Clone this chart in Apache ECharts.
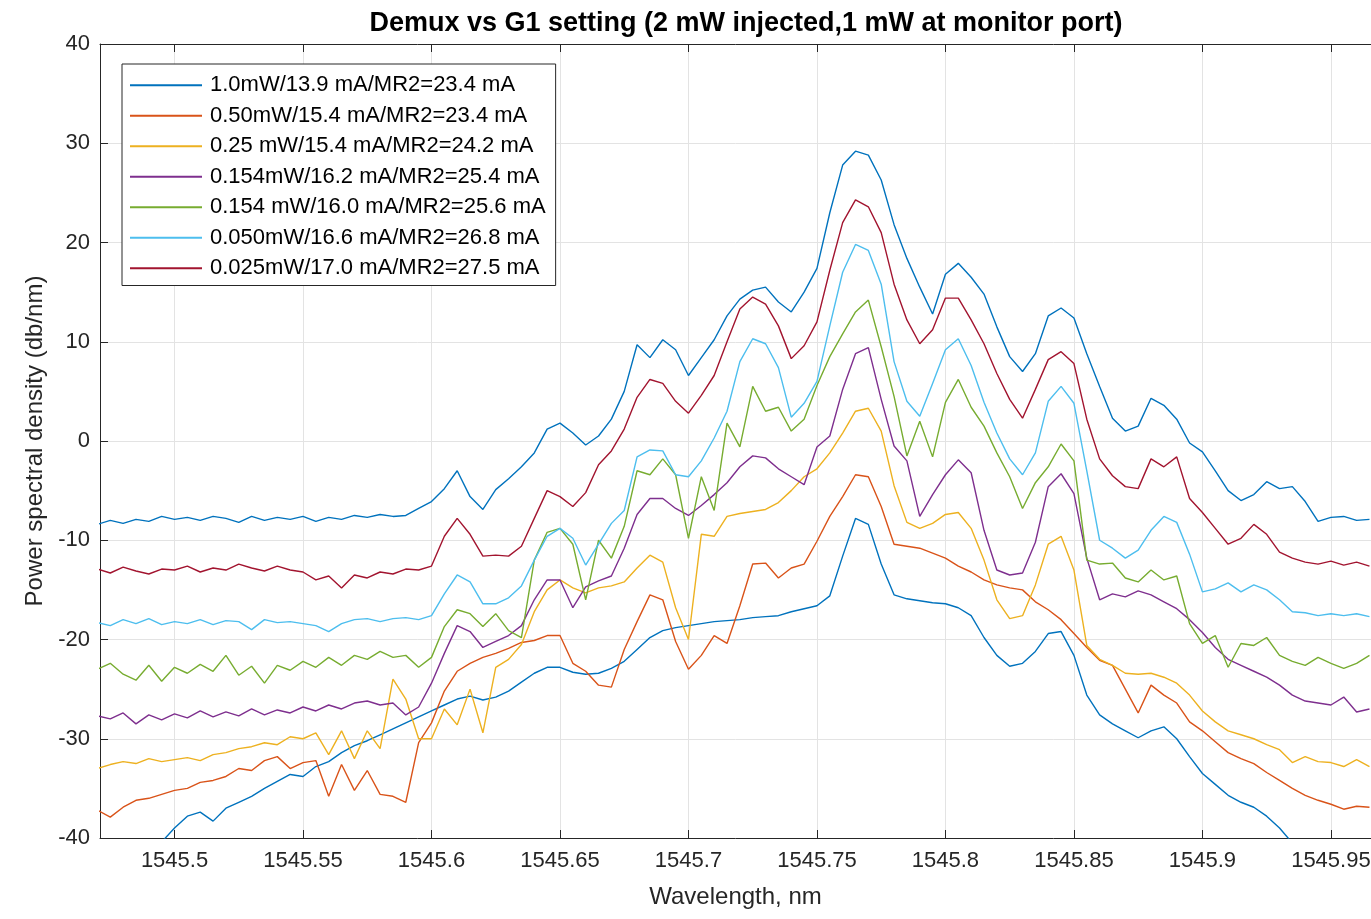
<!DOCTYPE html>
<html>
<head>
<meta charset="utf-8">
<script src="https://cdn.jsdelivr.net/npm/echarts@6/dist/echarts.min.js"></script>
<style>
html,body{margin:0;padding:0;background:#fff;}
#chart{width:1371px;height:919px;}
</style>
</head>
<body>
<div id="chart"></div>
<script>
// ---------------- DATA ----------------
const wavelengths = [
1545.470,1545.475,1545.480,1545.485,1545.490,1545.495,1545.500,1545.505,1545.510,1545.515,
1545.520,1545.525,1545.530,1545.535,1545.540,1545.545,1545.550,1545.555,1545.560,1545.565,
1545.570,1545.575,1545.580,1545.585,1545.590,1545.595,1545.600,1545.605,1545.610,1545.615,
1545.620,1545.625,1545.630,1545.635,1545.640,1545.645,1545.650,1545.655,1545.660,1545.665,
1545.670,1545.675,1545.680,1545.685,1545.690,1545.695,1545.700,1545.705,1545.710,1545.715,
1545.720,1545.725,1545.730,1545.735,1545.740,1545.745,1545.750,1545.755,1545.760,1545.765,
1545.770,1545.775,1545.780,1545.785,1545.790,1545.795,1545.800,1545.805,1545.810,1545.815,
1545.820,1545.825,1545.830,1545.835,1545.840,1545.845,1545.850,1545.855,1545.860,1545.865,
1545.870,1545.875,1545.880,1545.885,1545.890,1545.895,1545.900,1545.905,1545.910,1545.915,
1545.920,1545.925,1545.930,1545.935,1545.940,1545.945,1545.950,1545.955,1545.960,1545.965
];

const seriesNames = [
  '1.0mW/13.9 mA/MR2=23.4 mA',
  '0.50mW/15.4 mA/MR2=23.4 mA',
  '0.25 mW/15.4 mA/MR2=24.2 mA',
  '0.154mW/16.2 mA/MR2=25.4 mA',
  '0.154 mW/16.0 mA/MR2=25.6 mA',
  '0.050mW/16.6 mA/MR2=26.8 mA',
  '0.025mW/17.0 mA/MR2=27.5 mA'
];
const extraSeriesName = 'data8';

// 1.0mW (lowest blue trace)
const psd1 = [
-44.5,-43.8,-43.0,-42.2,-41.3,-40.4,-39.0,-37.8,-37.4,-38.3,
-37.0,-36.4,-35.8,-35.0,-34.3,-33.6,-33.8,-32.8,-32.3,-31.4,
-30.7,-30.2,-29.6,-29.0,-28.4,-27.8,-27.2,-26.6,-26.0,-25.7,
-26.1,-25.8,-25.2,-24.3,-23.4,-22.8,-22.8,-23.3,-23.5,-23.4,
-22.9,-22.2,-21.0,-19.8,-19.1,-18.8,-18.6,-18.4,-18.2,-18.1,
-18.0,-17.8,-17.7,-17.6,-17.2,-16.9,-16.6,-15.6,-11.6,-7.8,
-8.4,-12.4,-15.5,-15.9,-16.1,-16.3,-16.4,-16.8,-17.6,-19.8,
-21.6,-22.7,-22.4,-21.2,-19.4,-19.2,-21.6,-25.6,-27.6,-28.5,
-29.2,-29.9,-29.2,-28.8,-30.0,-31.8,-33.5,-34.6,-35.7,-36.4,
-36.9,-37.8,-39.0,-40.5,-42.2,-44.0,-46.0,-48.0,-50.0,-52.0
];
// 0.50mW (orange)
const psd2 = [
-37.2,-37.9,-36.9,-36.2,-36.0,-35.6,-35.2,-35.0,-34.4,-34.2,
-33.8,-33.0,-33.2,-32.2,-31.8,-33.0,-32.4,-32.2,-35.8,-32.6,
-35.2,-33.2,-35.6,-35.8,-36.4,-30.4,-28.4,-25.2,-23.2,-22.4,
-21.8,-21.4,-20.9,-20.3,-20.1,-19.6,-19.6,-22.4,-23.2,-24.6,
-24.8,-21.0,-18.2,-15.5,-16.0,-20.2,-23.0,-21.6,-19.6,-20.4,
-16.6,-12.4,-12.3,-13.8,-12.8,-12.4,-10.1,-7.6,-5.6,-3.4,
-3.6,-6.6,-10.4,-10.6,-10.8,-11.3,-11.8,-12.6,-13.2,-14.0,
-14.5,-14.8,-15.0,-16.2,-17.0,-18.0,-19.4,-20.8,-22.1,-22.6,
-25.0,-27.4,-24.6,-25.6,-26.4,-28.3,-29.2,-30.3,-31.4,-32.0,
-32.5,-33.4,-34.2,-35.0,-35.7,-36.2,-36.6,-37.1,-36.8,-36.9
];
// 0.25 mW (yellow)
const psd3 = [
-33.0,-32.6,-32.3,-32.5,-32.0,-32.3,-32.1,-31.9,-32.2,-31.6,
-31.4,-31.0,-30.8,-30.4,-30.6,-29.8,-30.0,-29.4,-31.6,-29.2,
-32.0,-29.2,-31.0,-24.0,-26.0,-30.0,-30.0,-27.0,-28.6,-25.0,
-29.4,-22.8,-22.0,-20.5,-17.2,-15.0,-14.0,-14.8,-15.3,-14.8,
-14.6,-14.2,-12.8,-11.5,-12.2,-16.8,-20.0,-9.4,-9.6,-7.6,
-7.3,-7.1,-6.9,-6.2,-5.0,-3.6,-2.8,-1.2,0.8,3.0,
3.3,1.0,-4.5,-8.2,-8.8,-8.3,-7.4,-7.2,-8.8,-12.0,
-16.0,-17.9,-17.6,-14.5,-10.4,-9.6,-13.0,-20.6,-22.0,-22.6,
-23.4,-23.5,-23.4,-23.8,-24.4,-25.6,-27.2,-28.3,-29.2,-29.6,
-30.0,-30.6,-31.1,-32.4,-31.8,-32.3,-32.4,-32.8,-32.1,-32.8
];
// 0.154mW/16.2 mA (purple)
const psd4 = [
-27.7,-28.0,-27.4,-28.5,-27.6,-28.1,-27.5,-27.9,-27.2,-27.8,
-27.3,-27.7,-27.0,-27.6,-27.1,-27.4,-26.8,-27.2,-26.6,-27.0,
-26.4,-26.2,-26.6,-26.4,-27.6,-26.8,-24.4,-21.4,-18.6,-19.2,
-20.8,-20.2,-19.6,-18.6,-16.0,-14.0,-14.0,-16.8,-14.7,-14.1,
-13.6,-10.8,-7.4,-5.8,-5.8,-6.8,-7.5,-6.5,-5.4,-4.2,
-2.6,-1.5,-1.7,-2.8,-3.6,-4.4,-0.6,0.5,5.2,8.8,
9.4,4.2,-0.5,-2.0,-7.6,-5.4,-3.4,-1.9,-3.2,-9.0,
-13.0,-13.5,-13.3,-10.2,-4.6,-3.3,-5.3,-11.8,-16.0,-15.4,
-15.7,-15.1,-15.5,-16.2,-16.9,-18.0,-19.3,-20.8,-22.0,-22.6,
-23.2,-23.8,-24.6,-25.6,-26.2,-26.4,-26.6,-25.8,-27.3,-27.0
];
// 0.154 mW/16.0 mA (green)
const psd5 = [
-23.0,-22.4,-23.5,-24.1,-22.6,-24.2,-22.8,-23.4,-22.5,-23.2,
-21.6,-23.6,-22.7,-24.4,-22.6,-23.1,-22.2,-22.8,-21.8,-22.6,
-21.6,-22.0,-21.2,-21.8,-21.6,-22.8,-21.8,-18.7,-17.0,-17.4,
-18.7,-17.4,-19.1,-19.8,-12.0,-9.2,-8.8,-10.4,-16.0,-10.0,
-11.8,-8.6,-3.0,-3.4,-1.8,-3.4,-9.8,-3.6,-7.0,1.8,
-0.6,5.5,3.0,3.4,1.0,2.2,5.6,8.5,10.8,13.0,
14.2,9.5,4.5,-1.5,2.0,-1.6,3.9,6.2,3.4,1.5,
-1.2,-3.6,-6.8,-4.2,-2.6,-0.3,-2.0,-12.0,-12.4,-12.3,
-13.8,-14.2,-13.0,-14.0,-13.6,-18.4,-20.4,-19.6,-22.8,-20.4,
-20.6,-19.8,-21.6,-22.2,-22.6,-21.8,-22.4,-22.9,-22.4,-21.6
];
// 0.050mW (light blue)
const psd6 = [
-18.3,-18.6,-18.0,-18.4,-17.9,-18.5,-18.2,-18.4,-18.0,-18.5,
-18.1,-18.2,-19.0,-18.0,-18.3,-18.2,-18.4,-18.6,-19.2,-18.4,
-18.0,-17.9,-18.2,-17.9,-17.8,-18.0,-17.6,-15.4,-13.5,-14.2,
-16.4,-16.4,-15.8,-14.6,-12.0,-9.6,-8.8,-9.8,-12.5,-10.4,
-8.3,-7.0,-1.6,-0.9,-1.0,-3.4,-3.6,-2.0,0.3,3.0,
8.0,10.3,9.8,7.4,2.4,3.8,6.0,11.6,17.0,19.8,
19.2,15.8,8.0,4.0,2.5,5.8,9.2,10.3,7.6,3.9,
0.8,-1.8,-3.4,-1.2,4.0,5.5,3.8,-3.0,-10.0,-10.8,
-11.8,-11.0,-9.0,-7.6,-8.2,-11.4,-15.2,-14.9,-14.3,-15.2,
-14.5,-15.0,-16.0,-17.2,-17.3,-17.6,-17.4,-17.6,-17.4,-17.7
];
// 0.025mW (dark red)
const psd7 = [
-12.9,-13.3,-12.7,-13.1,-13.4,-12.9,-13.0,-12.6,-13.2,-12.8,
-13.0,-12.4,-12.8,-13.1,-12.6,-13.0,-13.2,-14.0,-13.6,-14.8,
-13.5,-13.8,-13.2,-13.4,-12.9,-13.0,-12.6,-9.6,-7.8,-9.4,
-11.6,-11.5,-11.6,-10.6,-7.8,-5.0,-5.6,-6.6,-5.2,-2.4,
-1.0,1.2,4.4,6.2,5.8,4.0,2.8,4.6,6.6,10.0,
13.3,14.5,13.8,11.6,8.3,9.6,12.0,17.2,22.0,24.3,
23.6,21.0,15.8,12.2,9.8,11.2,14.4,14.4,12.2,9.8,
6.8,4.2,2.3,5.2,8.2,9.0,7.8,2.2,-1.8,-3.5,
-4.6,-4.8,-1.8,-2.6,-1.6,-5.8,-7.2,-8.8,-10.4,-9.8,
-8.4,-9.4,-11.2,-11.8,-12.2,-12.4,-12.1,-12.5,-12.2,-12.6
];
// 8th trace (top blue, not in legend)
const psd8 = [
-8.4,-8.0,-8.3,-7.9,-8.1,-7.6,-7.9,-7.7,-8.0,-7.6,
-7.8,-8.2,-7.6,-8.0,-7.7,-7.9,-7.6,-8.1,-7.7,-7.9,
-7.5,-7.7,-7.4,-7.6,-7.5,-6.8,-6.1,-4.8,-3.0,-5.6,
-6.9,-4.9,-3.8,-2.6,-1.2,1.2,1.8,0.8,-0.4,0.5,
2.2,5.0,9.7,8.4,10.2,9.2,6.6,8.4,10.2,12.6,
14.3,15.2,15.5,14.0,13.0,15.0,17.4,23.0,27.8,29.2,
28.8,26.3,21.8,18.4,15.5,12.8,16.8,17.9,16.5,14.8,
11.5,8.5,7.0,8.8,12.6,13.4,12.4,8.8,5.5,2.3,
1.0,1.5,4.3,3.6,2.2,-0.2,-1.1,-3.0,-5.0,-6.0,
-5.4,-4.1,-4.8,-4.6,-6.1,-8.1,-7.7,-7.6,-8.0,-7.9
];

// ---------------- CHART ----------------
const FONT = '"Liberation Sans", Arial, Helvetica, sans-serif';
const AXIS_COLOR = '#262626';
const GRID_COLOR = '#e3e3e3';
const colors = ['#0072BD','#D95319','#EDB120','#7E2F8E','#77AC30','#4DBEEE','#A2142F','#0072BD'];
const allValues = [psd1, psd2, psd3, psd4, psd5, psd6, psd7, psd8];
const allNames = seriesNames.concat([extraSeriesName]);

const series = allValues.map((vals, k) => ({
  name: allNames[k],
  type: 'line',
  xAxisIndex: 0,
  yAxisIndex: 0,
  data: wavelengths.map((w, i) => [w, vals[i]]),
  showSymbol: false,
  symbol: 'none',
  clip: true,
  lineStyle: { width: 1.4, color: colors[k] },
  itemStyle: { color: colors[k] },
  emphasis: { disabled: true }
}));

const X_MIN = 1545.471, X_MAX = 1545.9656;
const fmtX = v => String(parseFloat(Number(v).toFixed(4)));

const chart = echarts.init(document.getElementById('chart'), null, { renderer: 'canvas' });
chart.setOption({
  animation: false,
  backgroundColor: '#ffffff',
  title: {
    text: 'Demux vs G1 setting (2 mW injected,1 mW at monitor port)',
    left: 741,
    top: 5,
    textAlign: 'center',
    textStyle: { fontFamily: FONT, fontWeight: 'bold', fontSize: 27, color: '#000' }
  },
  grid: { left: 100, right: 0, top: 44, bottom: 81, containLabel: false, outerBoundsMode: 'none' },
  legend: {
    data: seriesNames,
    orient: 'vertical',
    left: 122,
    top: 64,
    padding: [10, 10, 6, 8],
    itemGap: 8,
    itemWidth: 72,
    itemHeight: 2,
    icon: 'rect',
    selectedMode: false,
    backgroundColor: '#ffffff',
    borderColor: AXIS_COLOR,
    borderWidth: 1,
    borderRadius: 0,
    textStyle: { fontFamily: FONT, fontSize: 22, color: '#000', lineHeight: 22.5, padding: [0, 0, 0, 3] }
  },
  xAxis: [
    {
      type: 'value', position: 'bottom', min: X_MIN, max: X_MAX, splitNumber: 10,
      name: 'Wavelength, nm', nameLocation: 'middle', nameGap: 47,
      nameTextStyle: { fontFamily: FONT, fontSize: 24, color: AXIS_COLOR },
      axisLine: { show: true, onZero: false, lineStyle: { color: AXIS_COLOR, width: 1 } },
      axisTick: { show: true, inside: true, length: 8, lineStyle: { color: AXIS_COLOR } },
      axisLabel: { show: true, margin: 12, showMinLabel: false, showMaxLabel: false,
                   formatter: fmtX,
                   fontFamily: FONT, fontSize: 22, color: AXIS_COLOR },
      splitLine: { show: true, lineStyle: { color: GRID_COLOR, width: 1 } }
    },
    {
      type: 'value', position: 'top', min: X_MIN, max: X_MAX, splitNumber: 10,
      axisLine: { show: true, onZero: false, lineStyle: { color: AXIS_COLOR, width: 1 } },
      axisTick: { show: true, inside: true, length: 8, lineStyle: { color: AXIS_COLOR } },
      axisLabel: { show: false },
      splitLine: { show: false }
    }
  ],
  yAxis: {
    type: 'value', min: -40, max: 40, interval: 10,
    name: 'Power spectral density (db/nm)', nameLocation: 'middle', nameGap: 52,
    nameTextStyle: { fontFamily: FONT, fontSize: 24, color: AXIS_COLOR },
    axisLine: { show: true, onZero: false, lineStyle: { color: AXIS_COLOR, width: 1 } },
    axisTick: { show: true, inside: true, length: 8, lineStyle: { color: AXIS_COLOR } },
    axisLabel: { margin: 10, fontFamily: FONT, fontSize: 22, color: AXIS_COLOR },
    splitLine: { show: true, lineStyle: { color: GRID_COLOR, width: 1 } }
  },
  series: series
});
</script>
</body>
</html>
